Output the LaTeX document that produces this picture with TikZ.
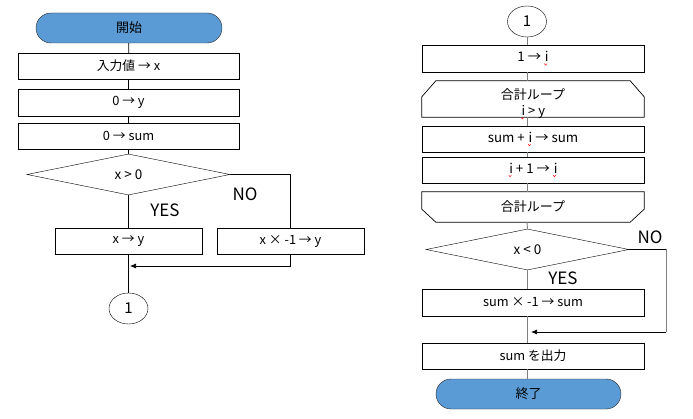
\documentclass[tikz,border=0pt]{standalone}
\usepackage{fontspec}
\setmainfont{Noto Sans CJK JP}
\usetikzlibrary{arrows.meta,shapes.geometric,shapes.misc}
\definecolor{termblue}{HTML}{5B9BD5}
\definecolor{lgray}{HTML}{808080}
\newcommand\sqi{\tikz[baseline=(q.base)]{\node[rectangle,draw=none,fill=none,inner sep=0pt,outer sep=0pt,minimum width=0pt,minimum height=0pt](q){i};\draw[red,line width=0.45pt]([yshift=-1.8pt,xshift=-0.6pt]q.south west)--++(1.3pt,-1.6pt)--++(1.3pt,1.6pt);}}
\begin{document}
\begin{tikzpicture}[x=1pt,y=-1pt,
  txt/.style={font=\fontsize{12.8}{15}\selectfont},
  rtxt/.style={font=\fontsize{13.3}{15}\selectfont},
  proc/.style={draw,rectangle,inner sep=0pt,minimum width=221pt,minimum height=26pt,txt},
  rproc/.style={proc,minimum width=222pt,rtxt},
  smallproc/.style={proc,minimum width=147pt},
  term/.style={draw=black!85,fill=termblue,rounded rectangle,inner sep=0pt,minimum width=186pt,minimum height=30pt,font=\fontsize{13}{15}\selectfont},
  dec/.style={draw,diamond,inner sep=0pt,minimum width=203pt,minimum height=41pt,font=\fontsize{13.5}{15}\selectfont},
  conn/.style={draw,ellipse,inner sep=0pt,minimum width=39pt,minimum height=31pt,font=\fontsize{15}{17}\selectfont},
  ghost/.style={rectangle,inner sep=0pt,minimum width=222pt},
  lbl/.style={font=\fontsize{17}{19}\selectfont},
  line/.style={draw,line width=0.7pt},
  gline/.style={draw=lgray,line width=0.9pt},
  arr/.style={line,-{Latex[length=6pt,width=5pt]}}
]
\useasboundingbox (0,0) rectangle (693,419);
% ---------- left column ----------
\node[term] (start) at (129,28) {開始};
\node[proc] (b1) at (128.5,66) {入力値 → x};
\node[proc,minimum height=27pt] (b2) at (128.5,102.5) {0 → y};
\node[proc] (b3) at (128.5,136) {0 → sum};
\node[dec] (d1) at (128.5,174.5) {x > 0};
\node[smallproc] (byes) at (128.5,241) {x → y};
\node[smallproc] (bno) at (290.5,241) {x × -1 → y};
\node[conn] (c1) at (128.5,308.5) {1};
\node[lbl] (yes1) at (165,210) {YES};
\node[lbl] (no1) at (245,194) {NO};
\coordinate (m1) at (130,266);
\coordinate (k1) at (290.5,174.5);
\draw[line] (start) -- (b1);
\draw[line] (b1) -- (b2);
\draw[line] (b2) -- (b3);
\draw[line] (b3) -- (d1);
\draw[line] (d1.south) -- (byes.north);
\draw[line] (d1.east) -- (k1) -- (bno.north);
\draw[arr] (bno.south) |- (m1);
\draw[line] (byes.south) -- (c1.north);
% ---------- right column ----------
\node[conn] (c2) at (527,21.5) {1};
\node[rproc,minimum height=27pt] (r1) at (533,58.5) {1 → \sqi};
\node[ghost,minimum height=36pt] (loop1) at (533,99) {};
\draw[line] ([xshift=14pt]loop1.north west) -- ([xshift=-14pt]loop1.north east)
  -- ([yshift=-16pt]loop1.north east) -- (loop1.south east) -- (loop1.south west)
  -- ([yshift=-16pt]loop1.north west) -- cycle;
\node[align=center,font=\fontsize{13}{16}\selectfont] (loop1t) at (533,104) {合計ループ\\\sqi\ > y};
\node[rproc] (r2) at (533,139) {sum + \sqi\ → sum};
\node[rproc] (r3) at (533,170) {\sqi\ + 1 → \sqi};
\node[ghost,minimum height=30pt] (loop2) at (533,207) {};
\draw[line] (loop2.north west) -- (loop2.north east) -- ([yshift=13pt]loop2.south east)
  -- ([xshift=-14pt]loop2.south east) -- ([xshift=14pt]loop2.south west)
  -- ([yshift=13pt]loop2.south west) -- cycle;
\node[font=\fontsize{13}{15}\selectfont] (loop2t) at (533,207) {合計ループ};
\node[dec] (d2) at (527.5,249.5) {x < 0};
\node[proc,minimum width=222pt,minimum height=27pt] (r4) at (533,302.5) {sum × -1 → sum};
\node[proc,minimum width=222pt] (r5) at (533,356) {sum を出力};
\node[term,minimum width=185pt] (end) at (528.5,394) {終了};
\node[lbl] (no2) at (650,237) {NO};
\node[lbl] (yes2) at (563,278) {YES};
\coordinate (k2) at (666,249.5);
\coordinate (k3) at (666,332);
\coordinate (m2) at (531,332);
\draw[gline] (c2.south) -- (c2.south |- r1.north);
\draw[gline] (c2.south |- r1.south) -- (c2.south |- loop1.north);
\draw[gline] (c2.south |- loop1.south) -- (c2.south |- r2.north);
\draw[gline] (c2.south |- r2.south) -- (c2.south |- r3.north);
\draw[gline] (c2.south |- r3.south) -- (c2.south |- loop2.north);
\draw[gline] (c2.south |- loop2.south) -- (d2.north);
\draw[gline] (d2.south) -- (d2.south |- r4.north);
\draw[gline] (d2.south |- r4.south) -- (d2.south |- r5.north);
\draw[gline] (d2.south |- r5.south) -- (end.north -| d2.south);
\draw[line] (d2.east) -- (k2);
\draw[gline] (k2) -- (k3);
\draw[arr] (k3) -- (m2);
\end{tikzpicture}
\end{document}
